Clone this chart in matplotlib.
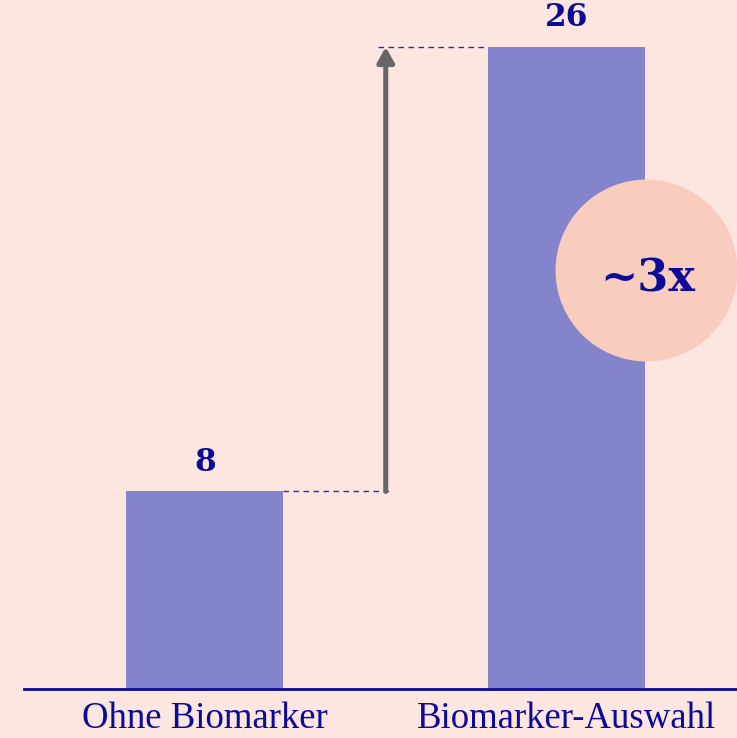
import matplotlib
matplotlib.use('Agg')
import matplotlib.pyplot as plt

# Daten
categories = ['Ohne Biomarker', 'Biomarker-Auswahl']
values = [8, 26]
factor_label = '~3x'

bg = '#FDE6E0'
bar_color = '#8484CC'
txt_color = '#0B0B99'

fig = plt.figure(figsize=(7.37, 7.38), dpi=100, facecolor=bg)
ax = fig.add_axes([24 / 737, 1 - 689 / 738, 1 - 24 / 737, 689 / 738])
ax.set_facecolor(bg)

x = list(range(len(categories)))
ax.bar(x, values, width=0.434, color=bar_color, zorder=2)
ax.set_xlim(-0.5, 1.471)
ax.set_ylim(0, 27.9)

# Wertebeschriftungen
for xi, v in zip(x, values):
    ax.text(xi, v + 0.55, str(v), ha='center', va='bottom', fontsize=22.5,
            fontweight='bold', family='DejaVu Serif', color=txt_color)

# Pfeil und gestrichelte Hilfslinien
mid = (x[0] + x[1]) / 2
ax.plot([x[0] + 0.217, mid + 0.02], [values[0], values[0]], ls=(0, (4, 3.2)),
        lw=1.0, color='#2B2BB0', zorder=3)
ax.plot([mid - 0.022, x[1] - 0.217], [values[1], values[1]], ls=(0, (4, 3.2)),
        lw=1.0, color='#2B2BB0', zorder=3)
ax.annotate('', xy=(mid, values[1]), xytext=(mid, values[0]),
            arrowprops=dict(arrowstyle='-|>,head_length=0.9,head_width=0.5',
                            color='#666666', lw=3.6, shrinkA=0, shrinkB=0),
            zorder=4)

# Kreis mit Faktor
ax.scatter([x[1] + 0.22], [16.96], s=131 ** 2, color='#F8CDBE', zorder=5,
           clip_on=False, linewidths=0)
ax.text(x[1] + 0.225, 16.6, factor_label, ha='center', va='center',
        fontsize=32, fontweight='bold', family='DejaVu Serif',
        color=txt_color, zorder=6)

# Achsen
for s in ['top', 'right', 'left']:
    ax.spines[s].set_visible(False)
ax.spines['bottom'].set_color(txt_color)
ax.spines['bottom'].set_linewidth(2)
ax.set_yticks([])
ax.set_xticks(x)
ax.set_xticklabels(categories, fontsize=26.5, family='Liberation Serif',
                   color=txt_color)
ax.tick_params(axis='x', length=0, pad=9)

fig.savefig('out.png', dpi=100, facecolor=bg)
